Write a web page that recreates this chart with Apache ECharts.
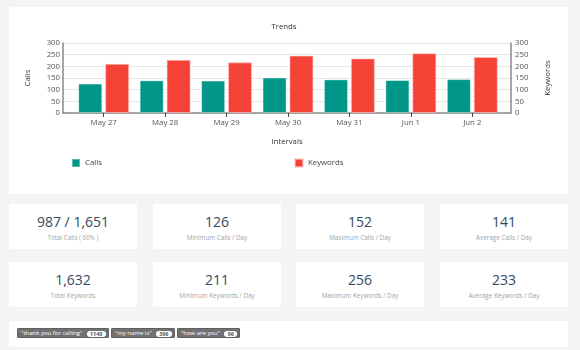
<!DOCTYPE html>
<html>
<head>
<meta charset="utf-8">
<script src="https://cdn.jsdelivr.net/npm/echarts@6/dist/echarts.min.js"></script>
<style>
  html,body{margin:0;padding:0;}
  body{width:580px;height:350px;overflow:hidden;background:#f3f4f6;font-family:'Open Sans',sans-serif;position:relative;}
  .card{position:absolute;background:#fff;}
  #chart{position:absolute;left:0;top:0;width:580px;height:200px;}
  .stat .num{position:absolute;left:0;right:0;top:10px;text-align:center;font-size:14px;line-height:16px;color:#34495e;}
  .stat .lbl{position:absolute;left:0;right:0;top:30px;text-align:center;font-size:6.3px;line-height:8px;color:#a0a4a8;}
  #tags{position:absolute;left:17px;top:328px;height:10px;white-space:nowrap;font-size:0;}
  .tag{display:inline-block;height:10px;background:#717171;border:0.5px solid #606060;box-sizing:border-box;border-radius:1px;margin-right:2px;padding:0 2px 0 3px;vertical-align:top;}
  .tag .t{display:inline-block;font-size:6px;line-height:9px;color:#fff;font-weight:400;vertical-align:top;}
  .tag .b{display:inline-block;margin-left:4px;margin-top:1.5px;height:6.5px;line-height:6.5px;padding:0 3.5px;border-radius:3.5px;background:#fff;color:#555;font-size:5.4px;font-weight:700;vertical-align:top;}
</style>
</head>
<body>
<div class="card" style="left:9px;top:7px;width:559px;height:187px;"></div>
<div id="chart"></div>
<div id="stats"></div>
<div class="card" style="left:9px;top:321px;width:559px;height:26px;"></div>
<div id="tags"></div>
<script>
const categories = ['May 27', 'May 28', 'May 29', 'May 30', 'May 31', 'Jun 1', 'Jun 2'];
const callsData = [126, 140, 139, 152, 144, 141, 145];
const keywordsData = [211, 228, 217, 246, 234, 256, 240];
const yTicks = [0, 50, 100, 150, 200, 250, 300];

const statValues = ['987 / 1,651', '126', '152', '141', '1,632', '211', '256', '233'];
const statLabels = ['Total Calls ( 60% )', 'Minimum Calls / Day', 'Maximum Calls / Day', 'Average Calls / Day',
                    'Total Keywords', 'Minimum Keywords / Day', 'Maximum Keywords / Day', 'Average Keywords / Day'];
const tagTexts = ['"thank you for calling"', '"my name is"', '"how are you"'];
const tagCounts = ['1140', '396', '96'];

// stat cards
const colLefts = [9, 153, 296, 440];
const rowTops = [204, 262];
const statsEl = document.getElementById('stats');
statValues.forEach((v, i) => {
  const d = document.createElement('div');
  d.className = 'card stat';
  d.style.left = colLefts[i % 4] + 'px';
  d.style.top = rowTops[Math.floor(i / 4)] + 'px';
  d.style.width = '128px';
  d.style.height = '45px';
  const n = document.createElement('div'); n.className = 'num'; n.textContent = v;
  const l = document.createElement('div'); l.className = 'lbl'; l.textContent = statLabels[i];
  d.appendChild(n); d.appendChild(l);
  statsEl.appendChild(d);
});

// tags
const tagsEl = document.getElementById('tags');
tagTexts.forEach((t, i) => {
  const s = document.createElement('span'); s.className = 'tag';
  const a = document.createElement('span'); a.className = 't'; a.textContent = t;
  const b = document.createElement('span'); b.className = 'b'; b.textContent = tagCounts[i];
  s.appendChild(a); s.appendChild(b);
  tagsEl.appendChild(s);
});

// chart
const chart = echarts.init(document.getElementById('chart'), null, {renderer: 'canvas'});
const font = 'Open Sans';
const labelColor = '#555';
const axisColor = '#8a8a8a';
const yMin = yTicks[0], yMax = yTicks[yTicks.length - 1], yStep = yTicks[1] - yTicks[0];

chart.setOption({
  backgroundColor: 'transparent',
  animation: false,
  textStyle: {fontFamily: font},
  title: {
    text: 'Trends', left: 284, top: 22.5, padding: 0, textAlign: 'center',
    textStyle: {fontSize: 7.8, fontWeight: 'normal', color: '#333', fontFamily: font}
  },
  legend: [
    {data: ['Calls'], left: 71, top: 158, padding: 0, itemWidth: 8, itemHeight: 8, icon: 'rect',
     textStyle: {fontSize: 7.8, color: '#444', fontFamily: font}},
    {data: ['Keywords'], left: 294, top: 158, padding: 0, itemWidth: 8, itemHeight: 8, icon: 'rect',
     textStyle: {fontSize: 7.8, color: '#444', fontFamily: font}}
  ],
  grid: [
    {left: 63, right: 69, top: 43, bottom: 87},
    {left: 73, right: 77, top: 43, bottom: 87}
  ],
  xAxis: [
    {
      type: 'category', gridIndex: 0, data: categories,
      name: 'Intervals', nameLocation: 'middle', nameGap: 25,
      nameTextStyle: {fontSize: 7.8, color: '#333', fontFamily: font},
      axisLine: {show: true, lineStyle: {color: axisColor, width: 1.5}},
      axisTick: {show: false}, axisLabel: {show: false}, splitLine: {show: false}
    },
    {
      type: 'category', gridIndex: 1, data: categories,
      axisLine: {show: false},
      axisTick: {show: true, alignWithLabel: true, length: 4, lineStyle: {color: '#444', width: 1}},
      axisLabel: {fontSize: 7.8, color: labelColor, margin: 6, fontFamily: font}
    }
  ],
  yAxis: [
    {
      type: 'value', gridIndex: 0, position: 'left', min: yMin, max: yMax, interval: yStep,
      name: 'Calls', nameLocation: 'middle', nameGap: 31,
      nameTextStyle: {fontSize: 7.8, color: '#333', fontFamily: font},
      axisLine: {show: true, lineStyle: {color: axisColor, width: 1.5}},
      axisTick: {show: false},
      axisLabel: {fontSize: 7.8, color: labelColor, margin: 3, fontFamily: font},
      splitLine: {show: true, lineStyle: {color: '#e6e6e6', width: 1}}
    },
    {
      type: 'value', gridIndex: 0, position: 'right', min: yMin, max: yMax, interval: yStep,
      name: 'Keywords', nameLocation: 'middle', nameGap: 33,
      nameTextStyle: {fontSize: 7.8, color: '#333', fontFamily: font},
      axisLine: {show: true, lineStyle: {color: axisColor, width: 1.5}},
      axisTick: {show: false},
      axisLabel: {fontSize: 7.8, color: labelColor, margin: 4, fontFamily: font},
      splitLine: {show: false}
    },
    {
      type: 'value', gridIndex: 1, min: yMin, max: yMax, interval: yStep, show: false,
      splitLine: {show: false}
    }
  ],
  series: [
    {
      name: 'Calls', type: 'bar', xAxisIndex: 1, yAxisIndex: 2, data: callsData,
      barWidth: 24, barGap: '12%',
      itemStyle: {color: '#009688', borderColor: 'rgba(255,255,255,0.35)', borderWidth: 1}
    },
    {
      name: 'Keywords', type: 'bar', xAxisIndex: 1, yAxisIndex: 2, data: keywordsData,
      barWidth: 24, barGap: '12%',
      itemStyle: {color: '#f44336', borderColor: 'rgba(255,200,200,0.6)', borderWidth: 1}
    }
  ]
});
</script>
</body>
</html>
